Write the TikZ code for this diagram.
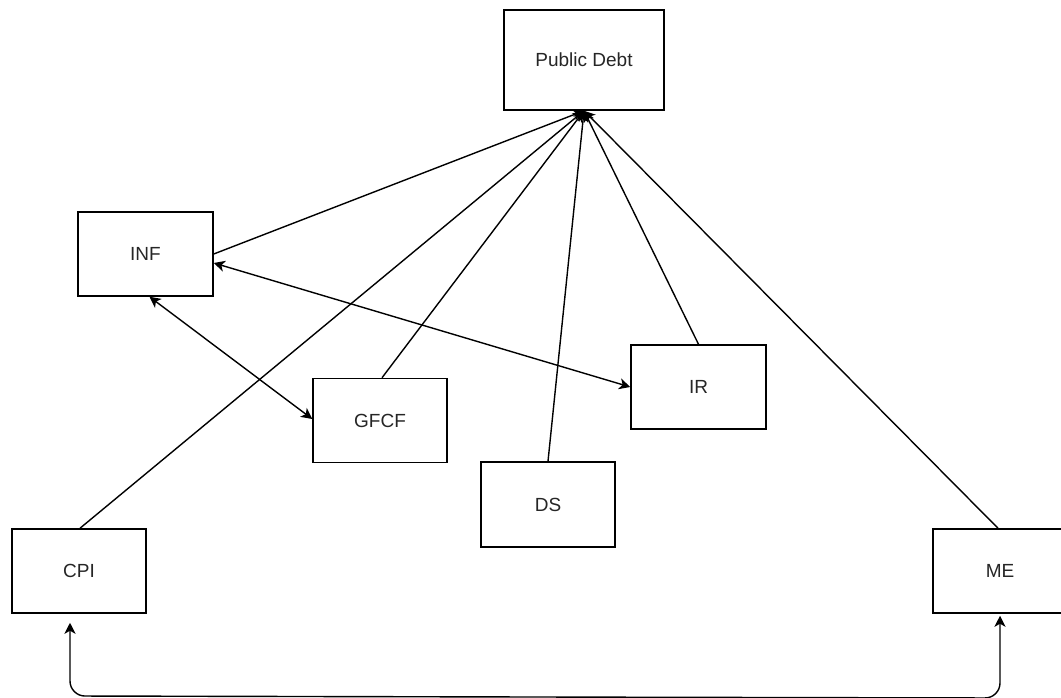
\documentclass[tikz,border=0pt]{standalone}
\usepackage{fontspec}
\setmainfont{Liberation Sans}
\usetikzlibrary{arrows.meta}
\begin{document}
\begin{tikzpicture}[x=1pt,y=-1pt,
  box/.style={draw, line width=1.5pt, fill=white, minimum width=134pt, minimum height=84pt, inner sep=0pt, font=\fontsize{19}{22}\selectfont, text=black!85},
  conn/.style={line width=1.4pt, -{Stealth[length=11pt,width=11pt,inset=3pt]}},
  bconn/.style={line width=1.4pt, {Stealth[length=11pt,width=11pt,inset=3pt]}-{Stealth[length=11pt,width=11pt,inset=3pt]}}
]
\useasboundingbox[fill=white] (0,0) rectangle (1061,698);
\node[box, minimum width=160pt, minimum height=100pt] (PD) at (584,60) {Public Debt};
\node[box, minimum width=135pt] (INF) at (145.5,254) {INF};
\node[box] (GFCF) at (380,420.5) {GFCF};
\node[box, minimum width=135pt] (IR) at (698.5,387) {IR};
\node[box, minimum height=85pt] (DS) at (548,504.5) {DS};
\node[box] (CPI) at (79,571) {CPI};
\node[box] (ME) at (1000,571) {ME};
\coordinate (low) at (0,696);

\draw[conn] (INF.east) -- (PD.south);
\draw[conn] ([xshift=1pt]CPI.north) -- (PD.south);
\draw[conn] ([xshift=2pt]GFCF.north) -- (PD.south);
\draw[conn] (DS.north) -- (PD.south);
\draw[conn] (IR.north) -- (PD.south);
\draw[conn] ([xshift=-2pt]ME.north) -- (PD.south);

\draw[bconn] ([yshift=-9pt]INF.east) -- (IR.west);
\draw[bconn] ([xshift=4pt]INF.south) -- ([yshift=1.5pt]GFCF.west);

\draw[bconn, rounded corners=15pt] ([xshift=-9pt,yshift=-9pt]CPI.south) -- ([xshift=-9pt]CPI.south |- low) -- ([yshift=-2pt]ME.south |- low) -- ([yshift=-2pt]ME.south);
\end{tikzpicture}
\end{document}
